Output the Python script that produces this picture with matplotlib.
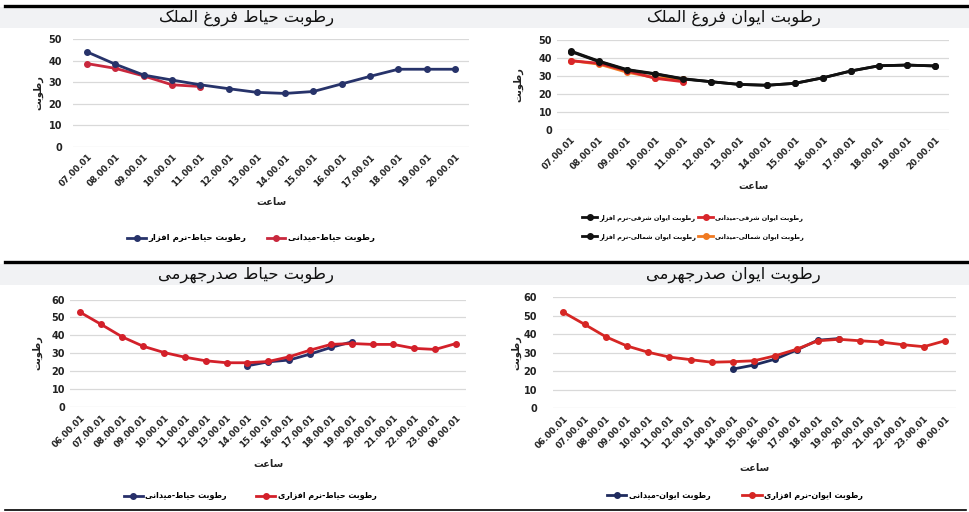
import matplotlib
matplotlib.use("Agg")
import matplotlib.pyplot as plt
from matplotlib.lines import Line2D
from matplotlib.patches import Rectangle

# ---------------- data ----------------
tl_hours = ['07.00.01', '08.00.01', '09.00.01', '10.00.01', '11.00.01', '12.00.01', '13.00.01',
            '14.00.01', '15.00.01', '16.00.01', '17.00.01', '18.00.01', '19.00.01', '20.00.01']
tl_software = [44.0, 38.3, 33.3, 31.0, 28.8, 27.0, 25.3, 24.8, 25.7, 29.2, 32.7, 36.0, 36.0, 36.0]
tl_field = [38.6, 36.4, 32.9, 28.8, 28.0]

tr_hours = tl_hours
tr_east_sw = [43.5, 37.9, 33.2, 31.0, 28.2, 26.7, 25.2, 24.7, 25.8, 28.9, 32.7, 35.6, 36.0, 35.5]
tr_north_sw = [43.8, 38.2, 33.5, 31.2, 28.4, 26.7, 25.2, 24.7, 25.8, 28.9, 32.7, 35.6, 36.0, 35.5]
tr_east_field = [38.4, 37.0, 32.8, 28.6, 26.7]
tr_north_field = [38.5, 36.5, 32.0, 29.0, 28.0]

b_hours = ['06.00.01', '07.00.01', '08.00.01', '09.00.01', '10.00.01', '11.00.01', '12.00.01',
           '13.00.01', '14.00.01', '15.00.01', '16.00.01', '17.00.01', '18.00.01', '19.00.01',
           '20.00.01', '21.00.01', '22.00.01', '23.00.01', '00.00.01']
field_hours = ['14.00.01', '15.00.01', '16.00.01', '17.00.01', '18.00.01', '19.00.01']
bl_software = [52.8, 46.1, 39.2, 34.0, 30.5, 27.9, 25.9, 24.8, 24.8, 25.5, 28.1, 31.8, 35.0,
               35.5, 35.0, 35.0, 32.8, 32.2, 35.5]
bl_field = [23.1, 25.3, 26.3, 29.6, 33.3, 36.4]
br_software = [51.9, 45.4, 38.7, 33.7, 30.3, 27.7, 26.3, 24.9, 25.2, 25.7, 28.4, 31.9, 36.5,
               37.3, 36.5, 35.8, 34.4, 33.3, 36.5]
br_field = [21.2, 23.4, 26.6, 31.5, 36.8, 37.7]

# ---------------- Persian shaping ----------------
FORMS = {
    'ا': (0xFE8D, 0xFE8E), 'آ': (0xFE81, 0xFE82),
    'ب': (0xFE8F, 0xFE90, 0xFE91, 0xFE92), 'پ': (0xFB56, 0xFB57, 0xFB58, 0xFB59),
    'ت': (0xFE95, 0xFE96, 0xFE97, 0xFE98), 'ث': (0xFE99, 0xFE9A, 0xFE9B, 0xFE9C),
    'ج': (0xFE9D, 0xFE9E, 0xFE9F, 0xFEA0), 'چ': (0xFB7A, 0xFB7B, 0xFB7C, 0xFB7D),
    'ح': (0xFEA1, 0xFEA2, 0xFEA3, 0xFEA4), 'خ': (0xFEA5, 0xFEA6, 0xFEA7, 0xFEA8),
    'د': (0xFEA9, 0xFEAA), 'ذ': (0xFEAB, 0xFEAC), 'ر': (0xFEAD, 0xFEAE),
    'ز': (0xFEAF, 0xFEB0), 'ژ': (0xFB8A, 0xFB8B),
    'س': (0xFEB1, 0xFEB2, 0xFEB3, 0xFEB4), 'ش': (0xFEB5, 0xFEB6, 0xFEB7, 0xFEB8),
    'ص': (0xFEB9, 0xFEBA, 0xFEBB, 0xFEBC), 'ض': (0xFEBD, 0xFEBE, 0xFEBF, 0xFEC0),
    'ط': (0xFEC1, 0xFEC2, 0xFEC3, 0xFEC4), 'ظ': (0xFEC5, 0xFEC6, 0xFEC7, 0xFEC8),
    'ع': (0xFEC9, 0xFECA, 0xFECB, 0xFECC), 'غ': (0xFECD, 0xFECE, 0xFECF, 0xFED0),
    'ف': (0xFED1, 0xFED2, 0xFED3, 0xFED4), 'ق': (0xFED5, 0xFED6, 0xFED7, 0xFED8),
    'ک': (0xFB8E, 0xFB8F, 0xFB90, 0xFB91), 'گ': (0xFB92, 0xFB93, 0xFB94, 0xFB95),
    'ل': (0xFEDD, 0xFEDE, 0xFEDF, 0xFEE0), 'م': (0xFEE1, 0xFEE2, 0xFEE3, 0xFEE4),
    'ن': (0xFEE5, 0xFEE6, 0xFEE7, 0xFEE8), 'ه': (0xFEE9, 0xFEEA, 0xFEEB, 0xFEEC),
    'و': (0xFEED, 0xFEEE), 'ی': (0xFBFC, 0xFBFD, 0xFBFE, 0xFBFF),
}
DUAL = {c for c, f in FORMS.items() if len(f) == 4}


def fa(text):
    out = []
    for i, c in enumerate(text):
        if c not in FORMS:
            out.append(c)
            continue
        prev = text[i - 1] if i > 0 else None
        nxt = text[i + 1] if i + 1 < len(text) else None
        jp = prev in DUAL
        jn = (c in DUAL) and (nxt in FORMS)
        f = FORMS[c]
        if jp and jn:
            g = f[3]
        elif jp:
            g = f[1]
        elif jn:
            g = f[2]
        else:
            g = f[0]
        out.append(chr(g))
    return ''.join(out).replace('\u200c', ' ')[::-1]


plt.rcParams['font.family'] = ['DejaVu Sans']

W, H = 970, 512
fig = plt.figure(figsize=(W / 100, H / 100), dpi=100)
fig.patch.set_facecolor('white')


def fx(px):
    return px / W


def fy(py):
    return 1 - py / H


def rect(l, t, r, b):
    return [fx(l), fy(b), fx(r) - fx(l), fy(t) - fy(b)]


# title strips and rules
for top_line, s_top, s_bot in [(5.8, 7.3, 28.3), (262.3, 263.8, 285.3)]:
    fig.add_artist(Rectangle((fx(0), fy(s_bot)), 1, fy(s_top) - fy(s_bot),
                             transform=fig.transFigure, facecolor='#f1f2f4',
                             edgecolor='none', zorder=0))
    fig.add_artist(Line2D([fx(5), 1], [fy(top_line), fy(top_line)],
                          transform=fig.transFigure, color='black', lw=2.4))
fig.add_artist(Line2D([fx(5), fx(966)], [fy(509.8), fy(509.8)],
                      transform=fig.transFigure, color='black', lw=1.2))

titles = [('رطوبت حیاط فروغ‌الملک', 247, 17.5), ('رطوبت ایوان فروغ‌الملک', 734, 17.5),
          ('رطوبت حیاط صدرجهرمی', 246, 274.5), ('رطوبت ایوان صدرجهرمی', 733, 274.5)]
for t, x, y in titles:
    fig.text(fx(x), fy(y), fa(t), ha='center', va='center', fontsize=11.8, color='#111111')


def style(ax, hours, ymax, pad_px):
    n = len(hours)
    ax.set_xlim(-0.5, n - 0.5)
    ax.set_ylim(0, ymax)
    ax.set_yticks(range(0, ymax + 1, 10))
    ax.set_xticks(range(n))
    ax.set_xticklabels(hours, rotation=45, ha='right', rotation_mode='anchor',
                       fontsize=6.2, fontweight='bold', color='#222222')
    for lab in ax.get_yticklabels():
        lab.set_fontsize(7)
        lab.set_fontweight('bold')
        lab.set_color('#222222')
    ax.tick_params(axis='both', length=0)
    ax.tick_params(axis='y', pad=pad_px * 0.72)
    ax.tick_params(axis='x', pad=4)
    for s in ax.spines.values():
        s.set_visible(False)
    ax.grid(axis='y', color='#d9d9d9', lw=0.9)
    ax.set_axisbelow(True)
    ax.patch.set_alpha(0)


def ylab(x, y):
    fig.text(fx(x), fy(y), fa('رطوبت'), rotation=90, ha='center', va='center',
             fontsize=7, fontweight='bold', color='#222222')


def xlab(x, y):
    fig.text(fx(x), fy(y), fa('ساعت'), ha='center', va='center',
             fontsize=7, fontweight='bold', color='#222222')


mk = dict(marker='o', markersize=4, lw=2.0)

# ---- top-left ----
ax1 = fig.add_axes(rect(73, 39, 469, 147))
c_nav, c_red = '#27336a', '#c9283d'
ax1.plot(range(len(tl_field)), tl_field, color=c_red, **mk, zorder=3)
ax1.plot(range(len(tl_hours)), tl_software, color=c_nav, **mk, zorder=4)
style(ax1, tl_hours, 50, 11)
ylab(38, 93)
xlab(271, 202)
h1 = [Line2D([], [], color=c_nav, **mk), Line2D([], [], color=c_red, **mk)]
fig.legend(h1, [fa('رطوبت حیاط-نرم افزار'), fa('رطوبت حیاط-میدانی')],
           loc='center', bbox_to_anchor=(fx(251), fy(238)), ncol=2, frameon=False,
           prop={'size': 6.1, 'weight': 'bold'}, handlelength=2.2, columnspacing=2.4,
           handletextpad=0.3)

# ---- top-right ----
ax2 = fig.add_axes(rect(557, 40, 949, 129.5))
c_blk, c_r2, c_or = '#111111', '#d8262b', '#f07a22'
ax2.plot(range(len(tr_north_sw)), tr_north_sw, color=c_blk, **mk, zorder=3)
ax2.plot(range(len(tr_north_field)), tr_north_field, color=c_or, **mk, zorder=4)
ax2.plot(range(len(tr_east_field)), tr_east_field, color=c_r2, **mk, zorder=5)
ax2.plot(range(len(tr_east_sw)), tr_east_sw, color=c_blk, **mk, zorder=6)
style(ax2, tr_hours, 50, 5)
ylab(518, 85)
xlab(753, 186)
h2 = [Line2D([], [], color=c_blk, **mk), Line2D([], [], color=c_blk, **mk),
      Line2D([], [], color=c_r2, **mk), Line2D([], [], color=c_or, **mk)]
fig.legend(h2, [fa('رطوبت ایوان شرقی-نرم افزار'), fa('رطوبت ایوان شمالی-نرم افزار'),
                fa('رطوبت ایوان شرقی-میدانی'), fa('رطوبت ایوان شمالی-میدانی')],
           loc='center', bbox_to_anchor=(fx(693), fy(227)), ncol=2, frameon=False,
           prop={'size': 4.6, 'weight': 'bold'}, handlelength=2.4, columnspacing=0.3,
           handletextpad=0.3, labelspacing=2.0)

# ---- bottom-left ----
ax3 = fig.add_axes(rect(70, 299.5, 466.5, 407.3))
c_nav3, c_red3 = '#28306a', '#d3202a'
xf = [b_hours.index(h) for h in field_hours]
ax3.plot(xf, bl_field, color=c_nav3, **mk, zorder=3)
ax3.plot(range(len(b_hours)), bl_software, color=c_red3, **mk, zorder=4)
style(ax3, b_hours, 60, 5)
ylab(37, 353)
xlab(268, 464)
h3 = [Line2D([], [], color=c_nav3, **mk), Line2D([], [], color=c_red3, **mk)]
fig.legend(h3, [fa('رطوبت حیاط-میدانی'), fa('رطوبت حیاط-نرم افزاری')],
           loc='center', bbox_to_anchor=(fx(250), fy(496)), ncol=2, frameon=False,
           prop={'size': 5.8, 'weight': 'bold'}, handlelength=2.4, columnspacing=3.6,
           handletextpad=0.3)

# ---- bottom-right ----
ax4 = fig.add_axes(rect(552.7, 297.3, 955.6, 408.3))
c_nav4, c_red4 = '#1f2b5e', '#d62624'
ax4.plot(xf, br_field, color=c_nav4, **mk, zorder=3)
ax4.plot(range(len(b_hours)), br_software, color=c_red4, **mk, zorder=4)
style(ax4, b_hours, 60, 15.5)
ylab(516, 353)
xlab(754, 468)
h4 = [Line2D([], [], color=c_nav4, **mk), Line2D([], [], color=c_red4, **mk)]
fig.legend(h4, [fa('رطوبت ایوان-میدانی'), fa('رطوبت ایوان-نرم افزاری')],
           loc='center', bbox_to_anchor=(fx(735), fy(495)), ncol=2, frameon=False,
           prop={'size': 5.8, 'weight': 'bold'}, handlelength=2.4, columnspacing=4.0,
           handletextpad=0.3)

fig.savefig('out.png', dpi=100, facecolor='white')
